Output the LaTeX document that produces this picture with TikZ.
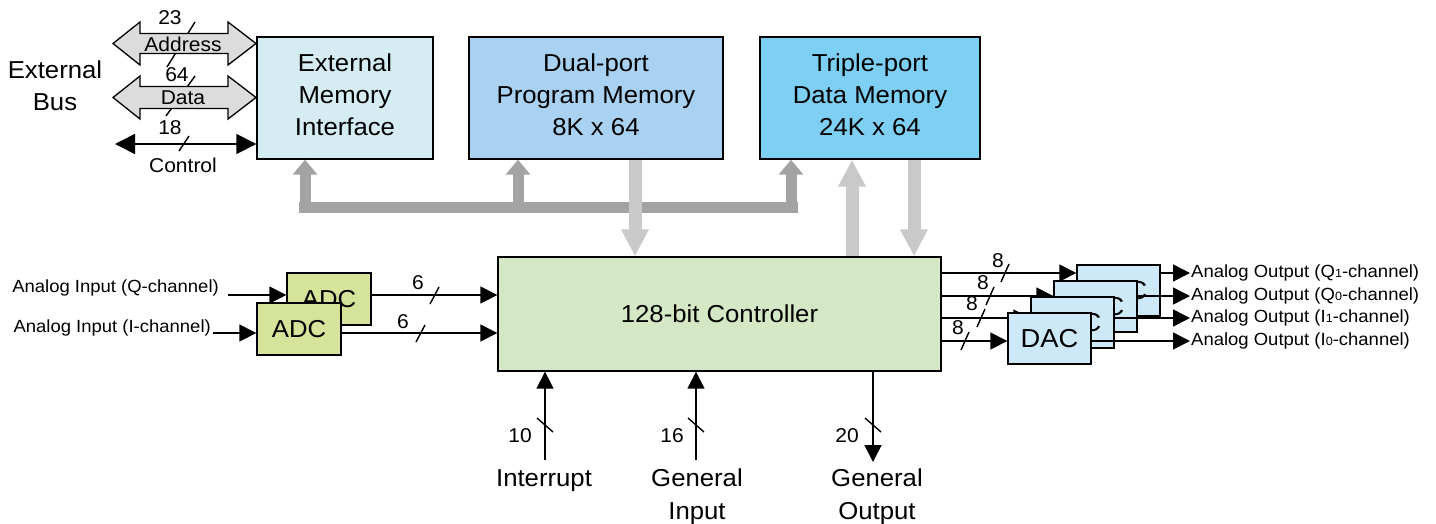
\documentclass[tikz,border=0pt]{standalone}
\usepackage{fontspec}
\setmainfont[FakeStretch=1.05]{Liberation Sans}
\usetikzlibrary{arrows.meta}
\definecolor{emic}{HTML}{D5EDF2}
\definecolor{progc}{HTML}{A9D1F1}
\definecolor{datac}{HTML}{7DCFF3}
\definecolor{ctrlc}{HTML}{D4E8C6}
\definecolor{adcc}{HTML}{D5E49A}
\definecolor{dacc}{HTML}{CDE9F8}
\definecolor{busa}{HTML}{DCDCDC}
\definecolor{darkbus}{HTML}{A3A3A3}
\definecolor{lightbus}{HTML}{C9C9C9}
\newcommand\fbig{\fontsize{24.5}{32}\selectfont}
\newcommand\fdac{\fontsize{26}{30}\selectfont}
\newcommand\fmid{\fontsize{20}{22}\selectfont}
\newcommand\fsml{\fontsize{17.6}{20}\selectfont}
\newcommand\sdig[1]{{\fontsize{12}{12}\selectfont #1}}
\newcommand\updep{\rule[-6pt]{0pt}{6pt}}
\begin{document}
\begin{tikzpicture}[x=1pt,y=-1pt,
 box/.style={draw, line width=1.4pt, inner sep=0pt, align=center, font=\fbig},
 sig/.style={line width=1.6pt, -{Triangle[length=17pt,width=17pt]}},
 tick/.style={line width=1.4pt},
 lbl/.style={font=\fmid, inner sep=0pt},
 txt/.style={font=\fbig, align=center, inner sep=0pt},
 stxt/.style={font=\fsml, inner sep=0pt},
 dbus/.style={draw=darkbus, line width=11pt},
 dbusarrow/.style={draw=darkbus, line width=11pt, -{Triangle[length=15pt,width=24pt]}},
 lbusarrow/.style={draw=lightbus, line width=13pt, -{Triangle[length=27pt,width=26pt]}},
 barrow/.style={draw, line width=1.3pt, fill=busa},
]
\useasboundingbox (0,0) rectangle (1436,523);

% memory blocks
\node[box, fill=emic, minimum width=176pt, minimum height=122pt] (emi) at (345,98) {External\\Memory\\Interface\updep};
\node[box, fill=progc, minimum width=254pt, minimum height=122pt] (prog) at (596,98) {Dual-port\\Program Memory\\8K x 64\updep};
\node[box, fill=datac, minimum width=220pt, minimum height=122pt] (data) at (870,98) {Triple-port\\Data Memory\\24K x 64\updep};
\node[box, fill=ctrlc, minimum width=443pt, minimum height=114pt] (ctrl) at (719.5,314) {128-bit Controller};

% dark internal bus
\coordinate (bx1) at (305,213);
\coordinate (bx2) at (518,213);
\coordinate (bx3) at (791,213);
\draw[dbus] (299,207.5) -- (798,207.5);
\draw[dbusarrow] (bx1) -- (bx1 |- emi.south);
\draw[dbusarrow] (bx2) -- (bx2 |- prog.south);
\draw[dbusarrow] (bx3) -- (bx3 |- data.south);

% light memory/controller arrows
\coordinate (lx1) at (635,0);
\coordinate (lx2) at (852,0);
\coordinate (lx3) at (914,0);
\draw[lbusarrow] (lx1 |- prog.south) -- (lx1 |- ctrl.north);
\draw[lbusarrow] (lx2 |- ctrl.north) -- (lx2 |- data.south);
\draw[lbusarrow] (lx3 |- data.south) -- (lx3 |- ctrl.north);

% external bus
\node[txt] (extbus) at (55,86) {External\\Bus};
\draw[tick] (167,67) -- (195,22);
\draw[barrow] (113,43.5) -- (140,22) -- (140,33.5) -- (228,33.5) -- (228,22) -- (256,43.5) -- (228,65) -- (228,53.5) -- (140,53.5) -- (140,65) -- cycle;
\node[lbl] (n23) at (170,18) {23};
\node[lbl] (addr) at (183,44) {Address};
\draw[tick] (166,116) -- (195,76);
\draw[barrow] (113,97.5) -- (140,76) -- (140,86.5) -- (228,86.5) -- (228,76) -- (256,97.5) -- (228,119) -- (228,108.5) -- (140,108.5) -- (140,119) -- cycle;
\node[lbl] (n64) at (177,75) {64};
\node[lbl] (dat) at (183,98) {Data};
\coordinate (cl) at (115,144);
\draw[line width=1.6pt, {Triangle[length=20pt,width=20pt]}-{Triangle[length=20pt,width=20pt]}] (cl) -- (cl -| emi.west);
\draw[tick] (179,151) -- (189,136);
\node[lbl] (n18) at (170,128) {18};
\node[lbl] (ctl) at (183,165) {Control};

% ADCs
\node[box, fill=adcc, minimum width=84pt, minimum height=52pt] (adcq) at (329,299) {ADC};
\coordinate (qin) at (228,295);
\draw[sig] (qin) -- (qin -| adcq.west);
\draw[sig] (qin -| adcq.east) -- (qin -| ctrl.west);
\draw[tick] (430,304) -- (439,287);
\node[lbl] (n6a) at (418,283) {6};
\node[stxt, anchor=east] (qtxt) at (219,288) {Analog Input (Q-channel)};
\node[box, fill=adcc, minimum width=84pt, minimum height=52pt] (adci) at (299,329) {ADC};
\coordinate (iin) at (213,333);
\draw[sig] (iin) -- (iin -| adci.west);
\draw[sig] (iin -| adci.east) -- (iin -| ctrl.west);
\draw[tick] (416,342) -- (425,325);
\node[lbl] (n6b) at (403,322) {6};
\node[stxt, anchor=east] (itxt) at (211,328) {Analog Input (I-channel)};

% DACs (stacked, back to front)
\node[box, fill=dacc, font=\fdac, minimum width=83pt, minimum height=51pt] (dac1) at (1118.5,290.5) {DAC};
\coordinate (y1) at (1190,273);
\draw[sig] (ctrl.east |- y1) -- (dac1.west |- y1);
\draw[sig] (dac1.east |- y1) -- (y1);
\draw[tick] (1001,282) -- (1009,264);
\node[lbl] (n8a) at (998,261) {8};
\node[stxt, anchor=west] (o1) at (1191,273) {Analog Output (Q\sdig{1}-channel)};

\node[box, fill=dacc, font=\fdac, minimum width=83pt, minimum height=51pt] (dac2) at (1095.5,306.5) {DAC};
\coordinate (y2) at (1190,296);
\draw[sig] (ctrl.east |- y2) -- (dac2.west |- y2);
\draw[sig] (dac2.east |- y2) -- (y2);
\draw[tick] (986,305) -- (994,287);
\node[lbl] (n8b) at (983,283) {8};
\node[stxt, anchor=west] (o2) at (1191,296) {Analog Output (Q\sdig{0}-channel)};

\node[box, fill=dacc, font=\fdac, minimum width=83pt, minimum height=51pt] (dac3) at (1072.5,322.5) {DAC};
\coordinate (y3) at (1190,318);
\draw[sig] (ctrl.east |- y3) -- (dac3.west |- y3);
\draw[sig] (dac3.east |- y3) -- (y3);
\draw[tick] (977,327) -- (985,309);
\node[lbl] (n8c) at (972,304) {8};
\node[stxt, anchor=west] (o3) at (1191,318) {Analog Output (I\sdig{1}-channel)};

\node[box, fill=dacc, font=\fdac, minimum width=83pt, minimum height=51pt] (dac4) at (1049.5,338.5) {DAC};
\coordinate (y4) at (1190,341);
\draw[sig] (ctrl.east |- y4) -- (dac4.west |- y4);
\draw[sig] (dac4.east |- y4) -- (y4);
\draw[tick] (961,350) -- (969,332);
\node[lbl] (n8d) at (958,328) {8};
\node[stxt, anchor=west] (o4) at (1191,341) {Analog Output (I\sdig{0}-channel)};

% bottom signals
\coordinate (intin) at (545,460);
\draw[sig] (intin) -- (intin |- ctrl.south);
\draw[tick] (537,418) -- (553,432);
\node[lbl] (n10) at (520,436) {10};
\node[txt] (intr) at (544,481) {Interrupt};

\coordinate (gin) at (696,460);
\draw[sig] (gin) -- (gin |- ctrl.south);
\draw[tick] (688,418) -- (704,432);
\node[lbl] (n16) at (672,436) {16};
\node[txt, font=\fontsize{24.5}{33}\selectfont] (ginl) at (697,497) {General\\Input};

\coordinate (gout) at (873,462);
\draw[sig] (gout |- ctrl.south) -- (gout);
\draw[tick] (865,418) -- (881,432);
\node[lbl] (n20) at (847,436) {20};
\node[txt, font=\fontsize{24.5}{33}\selectfont] (goutl) at (877,497) {General\\Output};
\end{tikzpicture}
\end{document}
